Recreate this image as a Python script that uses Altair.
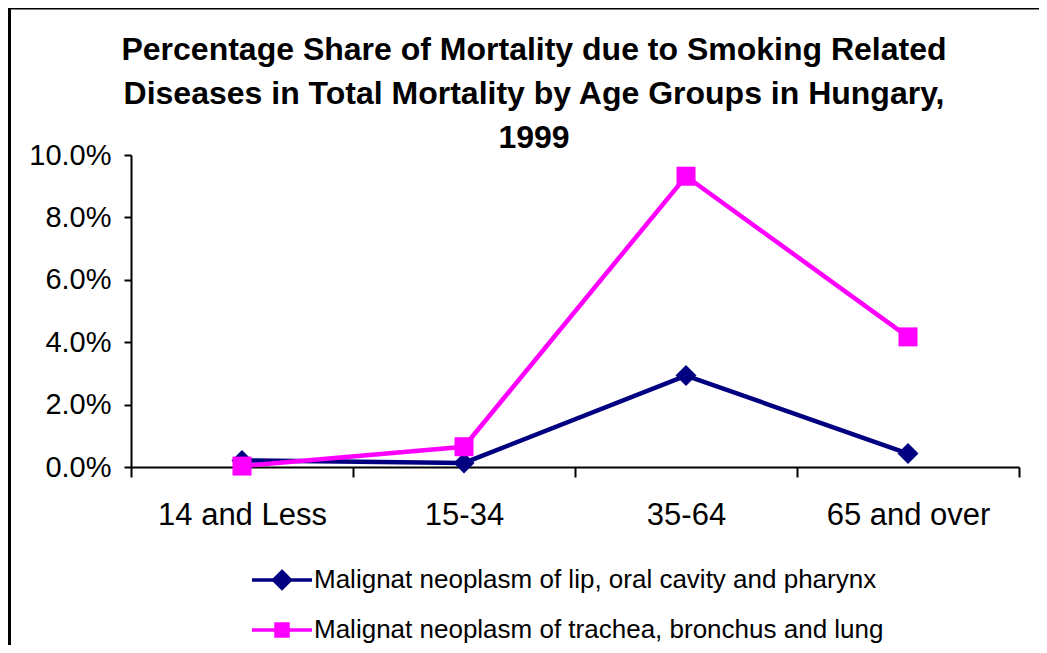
import altair as alt
import pandas as pd

categories = ["14 and Less", "15-34", "35-64", "65 and over"]
series_keys = ["lip", "lung"]
series_names = [
    "Malignat neoplasm of lip, oral cavity and pharynx",
    "Malignat neoplasm of trachea, bronchus and lung",
]
lip_oral_pharynx = [0.21, 0.13, 2.93, 0.43]
trachea_bronchus_lung = [0.03, 0.65, 9.32, 4.17]
series_colors = ["#000080", "#FF00FF"]
y_ticks = [0, 2, 4, 6, 8, 10]
title_lines = [
    "Percentage Share of Mortality due to Smoking Related",
    "Diseases in Total Mortality by Age Groups in Hungary,",
    "1999",
]

rows = []
for key, name, vals in zip(series_keys, series_names, [lip_oral_pharynx, trachea_bronchus_lung]):
    for cat, v in zip(categories, vals):
        rows.append({"age": cat, "key": key, "series": name, "value": v})
df = pd.DataFrame(rows)

W, H = 888, 312
FONT = "Liberation Sans"

x = alt.X(
    "age:N",
    sort=categories,
    scale=alt.Scale(type="band", paddingInner=0, paddingOuter=0),
    axis=alt.Axis(
        title=None, labelAngle=0, tickBand="extent", tickSize=10, tickWidth=2,
        tickColor="black", domainColor="black", domainWidth=2,
        labelFont=FONT, labelFontSize=31, labelColor="black", labelPadding=23,
        grid=False,
    ),
)
y = alt.Y(
    "value:Q",
    scale=alt.Scale(domain=[0, 10], nice=False),
    axis=alt.Axis(
        title=None, values=y_ticks, labelExpr="format(datum.value, '.1f') + '%'",
        tickSize=7, tickWidth=2, tickColor="black", domainColor="black", domainWidth=2,
        labelFont=FONT, labelFontSize=29, labelColor="black", labelPadding=13,
        grid=False,
    ),
)
color = alt.Color("key:N", scale=alt.Scale(domain=series_keys, range=series_colors), legend=None)

base = alt.Chart(df)
lines = base.mark_line(strokeWidth=4.5).encode(x=x, y=y, color=color)
diamonds = base.transform_filter(alt.datum.key == series_keys[0]).mark_point(
    shape="diamond", filled=True, size=441, opacity=1
).encode(x=x, y=y, color=color)
squares = base.transform_filter(alt.datum.key == series_keys[1]).mark_point(
    shape="square", filled=True, size=361, opacity=1
).encode(x=x, y=y, color=color)

diamond_path = "M-1.5,0H1.5M0,-0.42L0.42,0L0,0.42L-0.42,0Z"
square_path = "M-1.5,0H1.5M-0.3,-0.3H0.3V0.3H-0.3Z"

leg = alt.Legend(
    title=None, orient="none", legendX=129, legendY=403, direction="vertical",
    labelFont=FONT, labelFontSize=26, labelColor="black", labelLimit=800,
    symbolSize=1600, symbolStrokeWidth=3.5, labelOffset=10, rowPadding=12,
    padding=0, symbolOpacity=1, symbolFillColor="#000080", symbolStrokeColor="#000080",
)
legend_layer = base.mark_point(size=0, filled=True).encode(
    x=x, y=y,
    fill=alt.Fill("series:N", scale=alt.Scale(domain=series_names, range=series_colors), legend=leg),
    stroke=alt.Stroke("series:N", scale=alt.Scale(domain=series_names, range=series_colors), legend=leg),
    shape=alt.Shape("series:N", scale=alt.Scale(domain=series_names, range=[diamond_path, square_path]), legend=leg),
)

frame_data = alt.Data(values=[{}])
frame_left = alt.Chart(frame_data).mark_rule(color="black", strokeWidth=3).encode(
    x=alt.value(-121.5), y=alt.value(-148), y2=alt.value(H + 200)
)
frame_top = alt.Chart(frame_data).mark_rule(color="black", strokeWidth=3).encode(
    x=alt.value(-123), x2=alt.value(W + 40), y=alt.value(-147)
)

chart = alt.layer(lines, diamonds, squares, legend_layer, frame_left, frame_top).properties(
    width=W, height=H,
    padding={"left": 123, "top": 147, "right": 20, "bottom": 178},
    autosize=alt.AutoSizeParams(type="none"),
    title=alt.TitleParams(
        text=title_lines, font=FONT, fontSize=32, fontWeight="bold", color="black",
        lineHeight=44, anchor="middle", dx=-41, dy=153,
    ),
).configure(
    background="white",
    view=alt.ViewConfig(stroke="transparent", strokeWidth=0),
)

chart.save("out.html", embed_options={"renderer": "svg", "actions": False})
